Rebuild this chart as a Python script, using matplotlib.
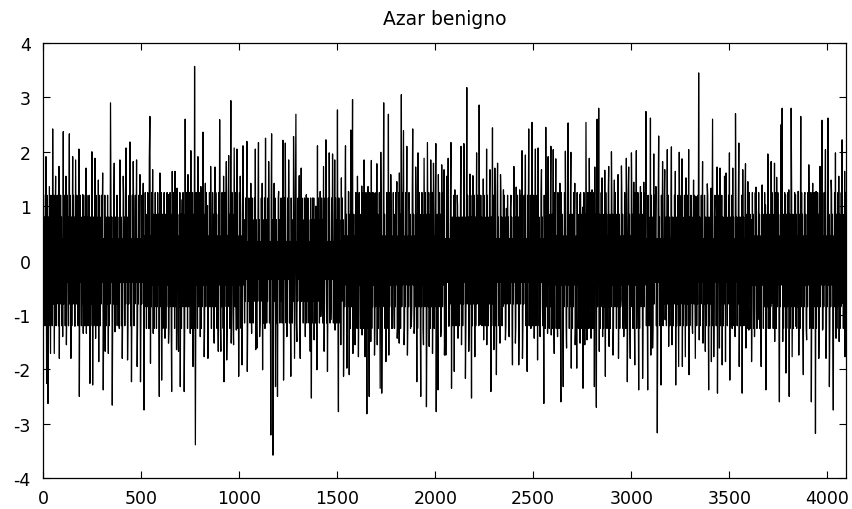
import numpy as np
import matplotlib
matplotlib.use("Agg")
import matplotlib.pyplot as plt

# Upward spikes: sample index and value
up_idx = [14, 31, 48, 63, 80, 102, 116, 133, 150, 165, 182, 201, 218, 248, 264, 281, 303, 343, 362, 391,
          408, 422, 442, 459, 476, 493, 510, 541, 544, 558, 595, 638, 658, 672,
          682, 709, 724, 738, 753, 772, 789, 804, 815, 827, 838, 854, 876, 900, 920, 934, 946, 957, 974, 988,
          1005, 1019, 1039, 1059, 1082, 1098, 1117, 1134, 1150, 1165, 1178, 1201, 1223, 1235, 1252, 1277, 1289,
          1306, 1316, 1342,
          1374, 1391, 1399, 1413, 1430, 1442, 1459, 1476, 1487, 1501, 1521, 1542, 1557, 1569, 1578, 1603, 1625,
          1637, 1657, 1674, 1688, 1702, 1722, 1737, 1761, 1773, 1804, 1817, 1827, 1838, 1855, 1868, 1885, 1900,
          1912, 1943, 1960, 1977, 1991, 2003, 2016, 2033, 2045,
          2058, 2066, 2080, 2100, 2114, 2131, 2146, 2161, 2177, 2192, 2211, 2224, 2245, 2262, 2279, 2292, 2304,
          2318, 2333, 2348, 2363, 2384, 2401, 2413, 2431, 2443, 2460, 2477, 2494, 2511, 2525, 2542, 2564, 2576,
          2590, 2602, 2615, 2636, 2647, 2664, 2678, 2692, 2712,
          2737, 2752, 2769, 2786, 2800, 2814, 2826, 2834, 2851, 2865, 2885, 2899, 2914, 2933, 2950, 2975, 2987,
          3001, 3013, 3026, 3047, 3064, 3075, 3098, 3115, 3126, 3140, 3160, 3171, 3184, 3205, 3225, 3245, 3259,
          3279, 3293, 3318, 3330, 3344, 3364, 3388, 3407, 3415,
          3425, 3438, 3453, 3476, 3484, 3501, 3518, 3532, 3549, 3569, 3583, 3595, 3612, 3637, 3668, 3685, 3697,
          3714, 3731, 3742, 3765, 3770, 3787, 3804, 3816, 3838, 3851, 3865, 3884, 3906, 3926, 3943, 3963, 3974,
          3991, 4004, 4020, 4042, 4059, 4076, 4089]
up_val = [1.91, 1.36, 2.42, 1.55, 1.73, 2.37, 1.55, 2.33, 1.91, 1.85, 2.05, 1.21, 1.70, 2.00, 1.88, 1.48, 1.61, 2.90, 1.79, 1.85,
          1.55, 2.07, 2.18, 1.82, 1.85, 1.58, 1.42, 1.88, 2.65, 1.67, 1.61, 1.21, 1.64, 1.64,
          1.33, 1.12, 2.60, 1.58, 2.02, 3.57, 1.91, 1.36, 2.36, 1.42, 1.01, 1.73, 1.72, 2.59, 1.55, 1.82, 1.93, 2.94, 2.07, 2.05,
          1.55, 2.11, 2.19, 1.42, 2.05, 2.17, 1.42, 2.25, 1.82, 2.33, 1.42, 1.27, 2.21, 2.16, 1.85, 2.28, 2.69,
          1.56, 1.70, 1.21,
          1.15, 1.00, 2.11, 1.27, 1.73, 2.22, 1.98, 1.96, 1.85, 2.77, 1.52, 2.11, 1.27, 2.40, 2.96, 1.55, 1.37,
          1.85, 1.36, 1.84, 1.24, 1.78, 1.99, 2.90, 2.69, 1.58, 1.45, 1.61, 3.05, 2.39, 2.10, 0.93, 2.42, 1.72,
          1.98, 1.88, 2.17, 1.85, 1.79, 2.15, 1.58, 1.76, 1.67,
          1.55, 1.88, 2.17, 1.30, 1.00, 2.10, 2.15, 3.18, 1.59, 1.56, 1.98, 2.86, 1.50, 2.05, 1.67, 2.44, 1.70,
          1.79, 1.58, 1.30, 0.96, 0.96, 1.73, 1.35, 1.30, 2.02, 1.94, 2.42, 2.54, 2.05, 2.07, 1.67, 2.45, 1.91,
          2.10, 2.04, 1.87, 1.42, 0.81, 2.01, 2.53, 1.99, 1.42,
          1.21, 0.98, 2.54, 1.88, 1.30, 1.72, 2.60, 2.80, 1.52, 1.66, 1.73, 2.00, 1.48, 1.58, 1.74, 1.88, 1.72,
          1.98, 1.44, 2.02, 1.36, 1.44, 2.74, 2.62, 1.96, 1.36, 2.29, 1.82, 1.67, 2.04, 2.09, 1.64, 1.99, 1.87,
          1.52, 2.04, 1.48, 1.18, 3.45, 1.82, 1.41, 1.33, 2.60,
          0.84, 1.72, 1.70, 1.55, 1.61, 1.98, 1.70, 2.70, 2.16, 1.67, 1.78, 1.45, 0.75, 1.35, 1.39, 1.02, 1.96,
          1.82, 1.79, 1.53, 2.50, 2.80, 1.21, 1.30, 2.80, 1.21, 1.27, 2.65, 1.21, 1.76, 1.42, 1.27, 1.73, 2.58,
          2.04, 2.62, 1.48, 1.98, 1.55, 2.22, 1.64]

# Downward spikes: sample index and value
lo_idx = [17, 24, 37, 56, 82, 99, 118, 141, 162, 184, 204, 220, 238, 252, 267, 283, 306, 316, 332, 352,
          366, 388, 403, 430, 450, 479, 496, 514, 547, 561, 592, 604, 621, 639, 655, 680,
          690, 699, 719, 750, 764, 776, 801, 821, 840, 852, 872, 893, 906, 922, 936, 959, 971, 985, 997, 1014,
          1041, 1063, 1084, 1090, 1104, 1119, 1131, 1161, 1172, 1185, 1195, 1226, 1243, 1263, 1282, 1294, 1311,
          1337, 1362,
          1368, 1382, 1396, 1416, 1433, 1450, 1467, 1489, 1506, 1518, 1532, 1549, 1561, 1580, 1591, 1608, 1627,
          1642, 1651, 1663, 1671, 1690, 1704, 1719, 1727, 1748, 1763, 1782, 1806, 1816, 1841, 1858, 1878, 1892,
          1906, 1926, 1940, 1955, 1969, 1986, 2005, 2014, 2028, 2047,
          2054, 2069, 2083, 2097, 2116, 2134, 2154, 2171, 2185, 2202, 2228, 2247, 2263, 2284, 2299, 2312, 2330,
          2345, 2358, 2377, 2394, 2409, 2426, 2445, 2469, 2488, 2505, 2522, 2535, 2554, 2573, 2592, 2607, 2624,
          2641, 2653, 2670, 2694, 2714, 2722,
          2739, 2754, 2763, 2774, 2795, 2812, 2822, 2837, 2854, 2868, 2887, 2907, 2935, 2948, 2962, 2980, 2995,
          3018, 3038, 3058, 3084, 3100, 3109, 3133, 3152, 3173, 3191, 3208, 3227, 3242, 3261, 3276, 3295, 3313,
          3327, 3347, 3366, 3378, 3395, 3409,
          3421, 3440, 3450, 3464, 3481, 3503, 3515, 3530, 3551, 3566, 3585, 3600, 3614, 3629, 3646, 3663, 3687,
          3702, 3716, 3732, 3756, 3773, 3789, 3806, 3821, 3840, 3855, 3878, 3895, 3919, 3940, 3957, 3976, 3994,
          4011, 4031, 4045, 4061, 4078, 4091]
lo_val = [-2.26, -2.63, -1.71, -1.71, -1.80, -1.40, -1.55, -1.80, -1.21, -2.50, -1.34, -1.34, -2.26, -2.29, -1.43, -1.86, -2.38, -1.67, -1.71, -2.66,
          -1.31, -1.25, -1.80, -1.83, -2.23, -1.95, -2.23, -2.75, -1.89, -1.34, -2.50, -2.20, -1.43, -1.52, -2.41, -1.64,
          -1.67, -2.32, -2.41, -1.34, -1.95, -3.39, -1.40, -1.77, -1.80, -0.85, -1.52, -1.67, -1.67, -2.23, -1.83, -1.52, -1.55, -1.28, -2.13, -1.92,
          -2.04, -1.34, -1.64, -1.61, -1.40, -2.01, -1.25, -3.21, -3.58, -2.32, -2.50, -2.20, -1.40, -2.13, -1.80, -1.49, -1.80,
          -1.40, -1.67,
          -2.53, -1.46, -2.01, -1.03, -1.67, -2.04, -1.09, -1.28, -2.78, -1.55, -2.13, -1.98, -2.10, -1.71, -1.55, -1.77, -1.37,
          -1.77, -2.82, -2.50, -1.49, -1.74, -1.55, -2.35, -2.44, -1.86, -1.74, -1.25, -1.43, -1.52, -1.55, -1.74, -1.21, -1.34,
          -2.23, -2.50, -1.55, -2.69, -1.58, -1.71, -2.78, -2.38, -1.40, -1.74,
          -1.74, -1.21, -2.35, -2.04, -1.43, -1.55, -2.17, -1.67, -2.53, -1.77, -1.18, -1.46, -1.55, -2.41, -1.64, -2.10, -1.52,
          -0.85, -1.46, -1.40, -1.92, -1.52, -1.92, -1.80, -2.04, -1.25, -1.43, -1.83, -1.40, -2.63, -1.34, -1.37, -1.71, -1.40,
          -2.60, -2.32, -1.61, -1.98, -1.55, -1.98,
          -1.52, -2.35, -1.55, -1.46, -1.43, -2.32, -2.70, -1.67, -1.40, -2.13, -1.58, -1.74, -1.80, -0.72, -1.40, -2.23, -1.80,
          -1.92, -2.38, -2.17, -2.38, -1.74, -1.61, -3.17, -2.29, -1.09, -1.58, -1.55, -2.29, -1.95, -1.95, -1.77, -2.10, -1.34,
          -1.80, -1.46, -1.52, -1.67, -2.38, -1.86,
          -1.77, -2.44, -1.61, -1.92, -1.86, -2.20, -1.25, -1.40, -1.95, -2.44, -1.61, -1.28, -1.86, -1.40, -1.09, -1.95, -2.38,
          -1.25, -0.79, -1.49, -2.60, -1.49, -2.07, -2.50, -1.77, -1.21, -1.74, -2.10, -1.46, -2.60, -3.18, -1.80, -1.28, -1.80,
          -2.32, -2.75, -1.43, -1.49, -0.79, -1.77]

# Central band, read per 512-sample block: where the black thins out (outer),
# where it is mostly black (mid) and the fully solid core (inner)
band_outer = [1.2, 1.25, 1.15, 1.25, 1.2, 1.25, 1.2, 1.25]
band_mid = [0.8, 0.85, 0.75, 0.85, 0.8, 0.85, 0.8, 0.85]
band_inner = [0.4, 0.45, 0.35, 0.45, 0.4, 0.45, 0.4, 0.45]

n_samples = 4096
x_ticks = [0, 500, 1000, 1500, 2000, 2500, 3000, 3500, 4000]
y_ticks = [-4, -3, -2, -1, 0, 1, 2, 3, 4]

# Assemble the trace: spikes in index order, with the central band
# oscillation between them (the three band levels in turn, alternating sign)
levels = [band_outer, band_inner, band_mid, band_outer, band_inner, band_mid]
pts = sorted(zip(up_idx + lo_idx, up_val + lo_val))
xs, ys = [], []
state = 0
prev = 0
for i, v in pts + [(n_samples, None)]:
    gap = i - prev
    nfill = max(gap // 2 - 1, 0)
    for k in range(nfill):
        j = prev + gap * (k + 1) / (nfill + 1)
        blk = min(int(j) // 512, 7)
        sign = 1 if state % 2 == 0 else -1
        xs.append(j)
        ys.append(sign * levels[state][blk])
        state = (state + 1) % 6
    if v is not None:
        xs.append(i)
        ys.append(v)
    prev = i

plt.rcParams['font.family'] = ['DejaVu Sans']
fig = plt.figure(figsize=(8.52, 5.10), dpi=100)
ax = fig.add_axes([0.0508, 0.0608, 0.9422, 0.8529])
ax.plot(xs, ys, color='black', linewidth=0.9)
ax.set_xlim(0, n_samples)
ax.set_ylim(-4, 4)
ax.set_xticks(x_ticks)
ax.set_yticks(y_ticks)
ax.set_xticklabels([str(t) for t in x_ticks])
ax.set_yticklabels([str(t) for t in y_ticks])
ax.tick_params(direction='in', top=True, right=True, length=5, width=0.8,
               labelsize=12.5)
ax.tick_params(axis='y', pad=9)
ax.tick_params(axis='x', pad=8)
for s in ax.spines.values():
    s.set_linewidth(0.9)
ax.set_title('Azar benigno', fontsize=13.5, pad=14)
fig.savefig('out.png', dpi=100)
